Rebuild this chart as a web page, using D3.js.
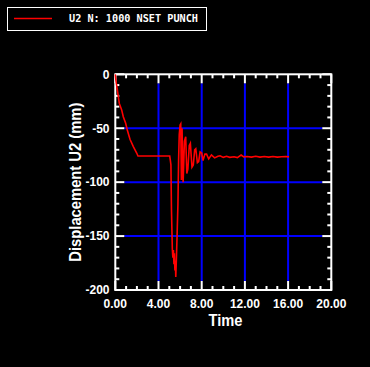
<!DOCTYPE html>
<html>
<head>
<meta charset="utf-8">
<script src="https://cdn.jsdelivr.net/npm/d3@7"></script>
<style>
  html, body { margin: 0; padding: 0; background: #000; }
  svg { display: block; }
  .tick-label { fill: #fff; font-family: "Liberation Sans", Arial, sans-serif; font-weight: bold; font-size: 12px; }
  .axis-title { fill: #fff; font-family: "Liberation Sans", Arial, sans-serif; font-weight: bold; font-size: 17px; }
  .legend-text { fill: #fff; font-family: "DejaVu Sans Mono", monospace; font-weight: bold; font-size: 10px; }
</style>
</head>
<body>
<div id="chart"></div>
<script>
// time (s) and displacement U2 (mm) of node 1000
const time = [
  0, 0.06, 0.19, 0.37, 0.59, 0.74, 0.96, 1.11, 1.36, 1.67, 1.98, 2.1,
  5.04, 5.1, 5.15, 5.2, 5.28, 5.33, 5.38, 5.43, 5.47, 5.52, 5.56, 5.6, 5.66, 5.72, 5.8, 5.86, 5.92,
  6.0, 6.06, 6.12, 6.18, 6.28, 6.4, 6.52, 6.62, 6.72, 6.85, 6.95, 7.1, 7.22, 7.35, 7.45,
  7.6, 7.72, 7.85, 8.0, 8.12, 8.3, 8.45, 8.65, 8.9, 9.2, 9.5, 9.7,
  10.0, 10.3, 10.6, 11.0, 11.3, 11.65, 11.9, 12.2, 12.6, 13.0, 13.4, 13.8, 14.2, 14.6, 15.0, 15.4, 15.8, 16.08
];
const u2 = [
  0, -6, -14.5, -27, -33, -39.3, -45.4, -51.6, -60.2, -67, -73, -75.8,
  -75.8, -80, -84, -125, -162, -170, -163, -176, -166, -182, -173, -188, -170, -150, -120, -80, -56,
  -47, -46, -98, -50, -100, -62, -58, -92, -88, -66, -64, -86, -84, -70, -69,
  -82, -81, -72, -73, -80, -74, -74, -78.5, -74.7, -77.5, -76, -75.5,
  -77, -76, -77, -76.5, -77.2, -74.8, -76.5, -76.2, -76.8, -76, -76.8, -76.2, -76.8, -76.2, -76.8, -76.4, -76.2, -76.6
];

const xMajor = [0, 4, 8, 12, 16, 20];
const xLabels = ["0.00", "4.00", "8.00", "12.00", "16.00", "20.00"];
const yMajor = [0, -50, -100, -150, -200];
const yLabels = ["0", "-50", "-100", "-150", "-200"];
const legendLabel = "U2 N: 1000 NSET PUNCH";

const width = 370;
const height = 367;
const plot = { left: 115.3, right: 331.3, top: 74.3, bottom: 290 };
const majorLen = 9;
const minorLen = 4;

const x = d3.scaleLinear().domain([0, 20]).range([plot.left, plot.right]);
const y = d3.scaleLinear().domain([-200, 0]).range([plot.bottom, plot.top]);

const svg = d3.select("#chart")
  .append("svg")
  .attr("width", width)
  .attr("height", height);

svg.append("rect")
  .attr("width", width)
  .attr("height", height)
  .attr("fill", "#000");

// grid lines (stop where the major ticks begin)
svg.selectAll(".vgrid")
  .data(xMajor.slice(1, -1))
  .enter()
  .append("line")
  .attr("x1", (d) => x(d))
  .attr("x2", (d) => x(d))
  .attr("y1", plot.top + majorLen)
  .attr("y2", plot.bottom - majorLen)
  .attr("stroke", "#0000ff")
  .attr("stroke-width", 2);

svg.selectAll(".hgrid")
  .data(yMajor.slice(1, -1))
  .enter()
  .append("line")
  .attr("x1", plot.left + majorLen)
  .attr("x2", plot.right - majorLen)
  .attr("y1", (d) => y(d))
  .attr("y2", (d) => y(d))
  .attr("stroke", "#0000ff")
  .attr("stroke-width", 2);

// ticks, inward on all four sides
const xTicks = d3.range(0, 21, 1);
const yTicks = d3.range(-200, 1, 10);
const tickG = svg.append("g").attr("stroke", "#fff").attr("stroke-width", 2);

xTicks.forEach((t) => {
  const len = t % 4 === 0 ? majorLen : minorLen;
  tickG.append("line").attr("x1", x(t)).attr("x2", x(t)).attr("y1", plot.bottom).attr("y2", plot.bottom - len);
  tickG.append("line").attr("x1", x(t)).attr("x2", x(t)).attr("y1", plot.top).attr("y2", plot.top + len);
});
yTicks.forEach((t) => {
  const len = t % 50 === 0 ? majorLen : minorLen;
  tickG.append("line").attr("x1", plot.left).attr("x2", plot.left + len).attr("y1", y(t)).attr("y2", y(t));
  tickG.append("line").attr("x1", plot.right).attr("x2", plot.right - len).attr("y1", y(t)).attr("y2", y(t));
});

// frame
svg.append("rect")
  .attr("x", plot.left)
  .attr("y", plot.top)
  .attr("width", plot.right - plot.left)
  .attr("height", plot.bottom - plot.top)
  .attr("fill", "none")
  .attr("stroke", "#fff")
  .attr("stroke-width", 2);

// curve
const line = d3.line()
  .x((d, i) => x(time[i]))
  .y((d) => y(d));

svg.append("path")
  .attr("d", line(u2))
  .attr("fill", "none")
  .attr("stroke", "#ff0000")
  .attr("stroke-width", 1.6)
  .attr("stroke-linejoin", "miter");

// tick labels
svg.selectAll(".xl")
  .data(xMajor)
  .enter()
  .append("text")
  .attr("class", "tick-label")
  .attr("x", (d) => x(d))
  .attr("y", 308)
  .attr("text-anchor", "middle")
  .text((d, i) => xLabels[i]);

svg.selectAll(".yl")
  .data(yMajor)
  .enter()
  .append("text")
  .attr("class", "tick-label")
  .attr("x", 109.5)
  .attr("y", (d) => y(d))
  .attr("dy", "0.36em")
  .attr("text-anchor", "end")
  .text((d, i) => yLabels[i]);

// axis titles
svg.append("text")
  .attr("class", "axis-title")
  .attr("x", x(10.2))
  .attr("y", 326)
  .attr("text-anchor", "middle")
  .attr("textLength", 34)
  .attr("lengthAdjust", "spacingAndGlyphs")
  .text("Time");

svg.append("text")
  .attr("class", "axis-title")
  .attr("text-anchor", "middle")
  .attr("transform", `translate(80.5,${y(-100)}) rotate(-90)`)
  .attr("textLength", 159)
  .attr("lengthAdjust", "spacingAndGlyphs")
  .text("Displacement U2 (mm)");

// legend
const legend = svg.append("g");
legend.append("rect")
  .attr("x", 7.5)
  .attr("y", 7.5)
  .attr("width", 199)
  .attr("height", 23)
  .attr("fill", "none")
  .attr("stroke", "#fff")
  .attr("stroke-width", 1);
legend.append("line")
  .attr("x1", 14)
  .attr("x2", 52)
  .attr("y1", 18.5)
  .attr("y2", 18.5)
  .attr("stroke", "#ff0000")
  .attr("stroke-width", 1.5);
legend.append("text")
  .attr("class", "legend-text")
  .attr("x", 69)
  .attr("y", 22)
  .attr("textLength", 129)
  .attr("lengthAdjust", "spacingAndGlyphs")
  .text(legendLabel);
</script>
</body>
</html>
